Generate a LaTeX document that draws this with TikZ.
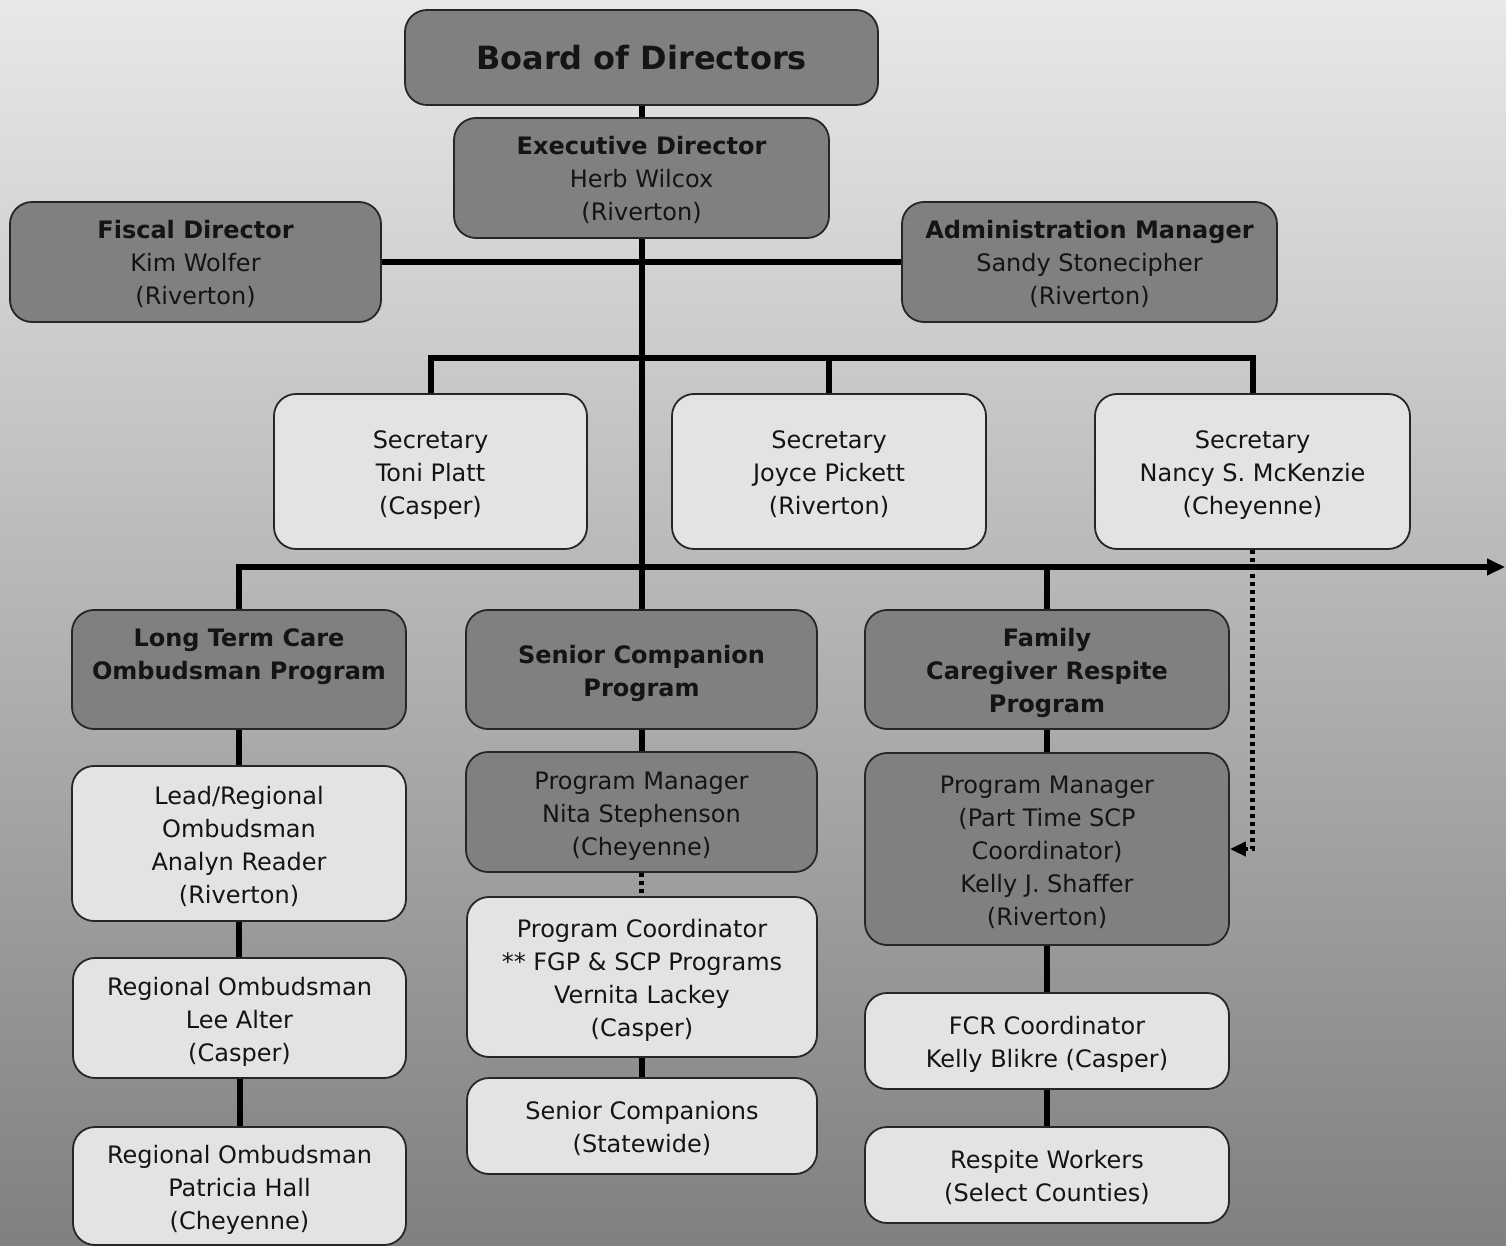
\documentclass[tikz,border=0pt]{standalone}
\usepackage{fontspec}
\setmainfont{DejaVu Sans}
\usetikzlibrary{arrows.meta}
% struts that fix the height of the first line and the depth of the last
\newcommand\hiline{\rule{0pt}{13pt}}
\newcommand\loline{\rule[-3pt]{0pt}{0pt}}
\begin{document}
\begin{tikzpicture}[x=0.5pt,y=-0.5pt,
  box/.style={draw=black!85, line width=0.9pt, rounded corners=11pt,
    align=center, inner sep=0pt, text=black!92,
    font=\fontsize{12}{16.5}\selectfont},
  darkbox/.style={box, fill=black!50},
  lightbox/.style={box, fill=black!11},
  link/.style={line width=3pt, black},
  dotlink/.style={line width=2.2pt, black, dash pattern=on 2pt off 2pt},
  tip/.style={-{Triangle[length=9pt,width=8pt]}}
]
% page and background
\useasboundingbox (0,0) rectangle (1506,1246);
\shade[top color=black!9, bottom color=black!50] (0,0) rectangle (1506,1246);

% top management
\node[darkbox, minimum width=236.5pt, minimum height=47.5pt,
      font=\fontsize{16}{20}\selectfont\bfseries] (board) at (641.5,57.5) {Board of Directors};
\node[darkbox, minimum width=187.5pt, minimum height=60pt] (exec) at (641.5,178)
  {\hiline\textbf{Executive Director}\\Herb Wilcox\\(Riverton)\loline};
\node[darkbox, minimum width=185.5pt, minimum height=60pt] (fiscal) at (195.5,262)
  {\hiline\textbf{Fiscal Director}\\Kim Wolfer\\(Riverton)\loline};
\node[darkbox, minimum width=187.5pt, minimum height=60pt] (admin) at (1089.5,262)
  {\hiline\textbf{Administration Manager}\\Sandy Stonecipher\\(Riverton)\loline};

% secretaries
\node[lightbox, minimum width=156.5pt, minimum height=77.5pt] (sec1) at (430.5,471.5)
  {\hiline Secretary\\Toni Platt\\(Casper)\loline};
\node[lightbox, minimum width=157pt, minimum height=77.5pt] (sec2) at (829,471.5)
  {\hiline Secretary\\Joyce Pickett\\(Riverton)\loline};
\node[lightbox, minimum width=157.5pt, minimum height=77.5pt] (sec3) at (1252.5,471.5)
  {\hiline Secretary\\Nancy S. McKenzie\\(Cheyenne)\loline};

% programs
\node[darkbox, minimum width=167pt, minimum height=59.5pt] (ltc) at (239,669.5)
  {\hiline\textbf{Long Term Care}\\\textbf{Ombudsman Program}\\\phantom{X}\loline};
\node[darkbox, minimum width=175.5pt, minimum height=59.5pt] (scp) at (641.5,669.5)
  {\hiline\textbf{Senior Companion}\\\textbf{Program}\loline};
\node[darkbox, minimum width=182pt, minimum height=59.5pt] (fcr) at (1047,669.5)
  {\hiline\textbf{Family}\\\textbf{Caregiver Respite}\\\textbf{Program}\loline};

% long term care column
\node[lightbox, minimum width=167pt, minimum height=77.5pt] (lead) at (239,843.5)
  {\hiline Lead/Regional\\Ombudsman\\Analyn Reader\\(Riverton)\loline};
\node[lightbox, minimum width=166.5pt, minimum height=60pt] (lee) at (239.5,1018)
  {\hiline Regional Ombudsman\\Lee Alter\\(Casper)\loline};
\node[lightbox, minimum width=166.5pt, minimum height=59pt] (pat) at (239.5,1186)
  {\hiline Regional Ombudsman\\Patricia Hall\\(Cheyenne)\loline};

% senior companion column
\node[darkbox, minimum width=175.5pt, minimum height=60pt] (nita) at (641.5,812)
  {\hiline Program Manager\\Nita Stephenson\\(Cheyenne)\loline};
\node[lightbox, minimum width=175pt, minimum height=80pt] (coord) at (642,977)
  {\hiline Program Coordinator\\** FGP \& SCP Programs\\Vernita Lackey\\(Casper)\loline};
\node[lightbox, minimum width=175pt, minimum height=48pt] (comp) at (642,1126)
  {\hiline Senior Companions\\(Statewide)\loline};

% family caregiver column
\node[darkbox, minimum width=182pt, minimum height=96pt] (kelly) at (1047,849)
  {\hiline Program Manager\\(Part Time SCP\\Coordinator)\\Kelly J. Shaffer\\(Riverton)\loline};
\node[lightbox, minimum width=182pt, minimum height=48pt] (fcrc) at (1047,1041)
  {\hiline FCR Coordinator\\Kelly Blikre (Casper)\loline};
\node[lightbox, minimum width=182pt, minimum height=48pt] (resp) at (1047,1175)
  {\hiline Respite Workers\\(Select Counties)\loline};

% bus points
\coordinate (sbus) at (641,358);
\coordinate (pbus) at (641,567);
\coordinate (pend) at (1505,567);

% reporting lines
\draw[link] (board.south) -- (exec.north);
\draw[link] (exec.south) -- (scp.north);
\draw[link] (fiscal.east) -- (admin.west);
\draw[link] (sec1.north) |- (sbus) -| (sec3.north);
\draw[link] (sec2.north) -- (sec2.north |- sbus);
\draw[link, tip] (ltc.north) |- (pbus) -- (pend);
\draw[link] (fcr.north) -- (fcr.north |- pbus);

\draw[link] (ltc.south) -- (lead.north);
\draw[link] (lead.south) -- (lead.south |- lee.north);
\draw[link] (lee.south) -- (pat.north);

\draw[link] (scp.south) -- (nita.north);
\draw[dotlink] (nita.south) -- (nita.south |- coord.north);
\draw[link] (coord.south) -- (comp.north);

\draw[link] (fcr.south) -- (kelly.north);
\draw[link] (kelly.south) -- (fcrc.north);
\draw[link] (fcrc.south) -- (resp.north);

% dotted link from secretary to program manager
\draw[dotlink, -{Triangle[length=8pt,width=7pt]}] (sec3.south) |- (kelly.east);
\end{tikzpicture}
\end{document}
